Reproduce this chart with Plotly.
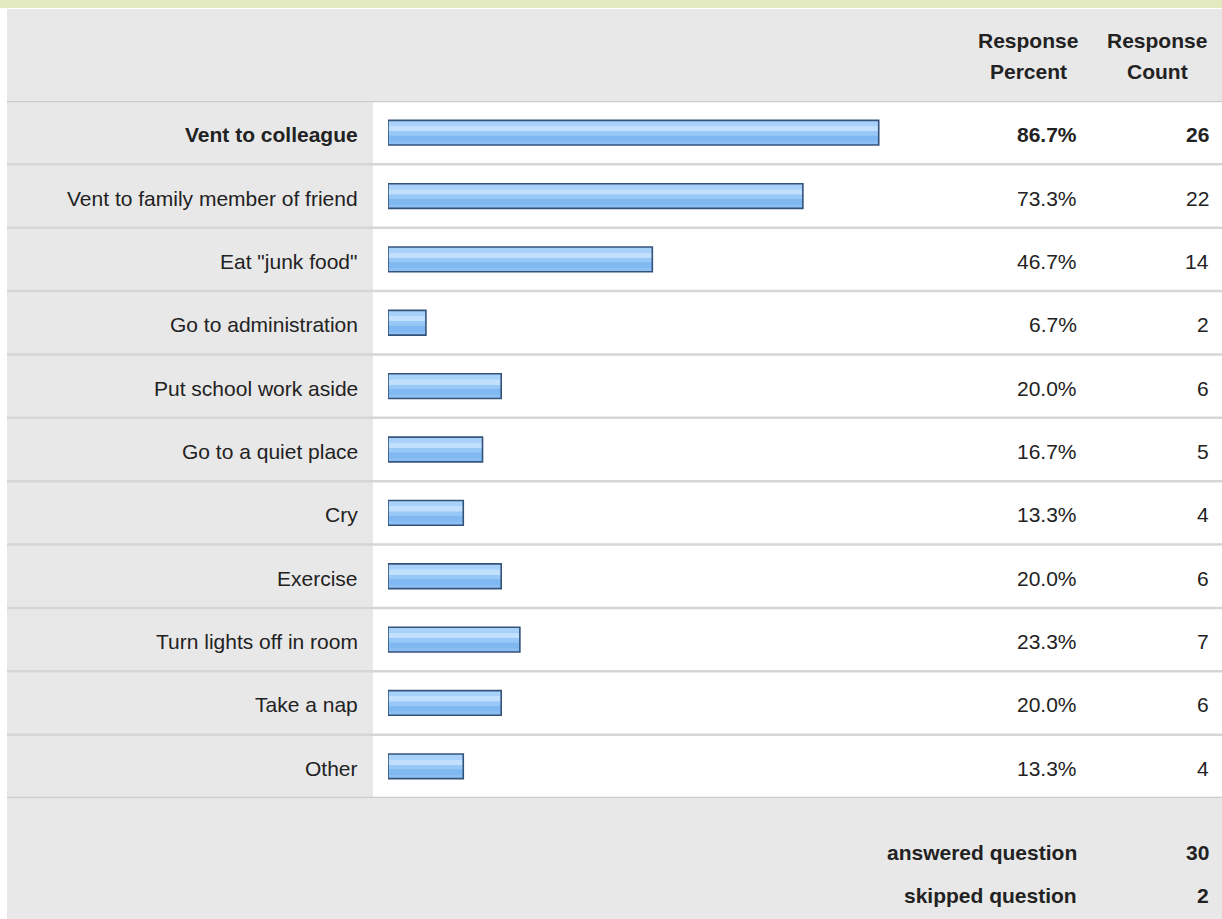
import plotly.graph_objects as go

categories = ["Vent to colleague", "Vent to family member of friend", "Eat \"junk food\"",
              "Go to administration", "Put school work aside", "Go to a quiet place", "Cry",
              "Exercise", "Turn lights off in room", "Take a nap", "Other"]
percents = [86.7, 73.3, 46.7, 6.7, 20.0, 16.7, 13.3, 20.0, 23.3, 20.0, 13.3]
counts = [26, 22, 14, 2, 6, 5, 4, 6, 7, 6, 4]
header_percent = ["Response", "Percent"]
header_count = ["Response", "Count"]
footer_labels = ["answered question", "skipped question"]
footer_values = [30, 2]

W, H = 1222, 919
FONT = "Liberation Sans, Arial, sans-serif"
FS = 21
GRAY = "#e8e8e8"
LINE = "#d6d6d6"
TXT = "#222222"

def px(x):
    return x / W

def py(y):
    return 1 - y / H

fig = go.Figure()

bw = 0.39
# gradient bands, from top (screen) to bottom: (start fraction, end fraction, color)
bands = [(0.00, 1.00, "#80b8f1"),
         (0.00, 0.22, "#a9d2fb"),
         (0.22, 0.45, "#c0e0fd"),
         (0.45, 0.62, "#98c8f7"),
         (0.85, 1.00, "#8cbff3")]
for f0, f1, colr in bands:
    fig.add_trace(go.Bar(y=categories, x=percents, orientation="h", width=bw * (f1 - f0),
                         offset=-bw / 2 + bw * f0,
                         marker=dict(color=colr, line=dict(width=0)), hoverinfo="skip"))
# outline
fig.add_trace(go.Bar(y=categories, x=percents, orientation="h", width=bw, offset=-bw / 2,
                     marker=dict(color="rgba(0,0,0,0)", line=dict(width=1.6, color="#34537b")),
                     hoverinfo="skip"))

shapes = []
shapes.append(dict(type="rect", xref="paper", yref="paper", x0=0, x1=1, y0=py(8), y1=1,
                   fillcolor="#e4eac0", line=dict(width=0), layer="below"))
shapes.append(dict(type="rect", xref="paper", yref="paper", x0=px(7), x1=1, y0=py(101), y1=py(9),
                   fillcolor=GRAY, line=dict(width=0), layer="below"))
shapes.append(dict(type="rect", xref="paper", yref="paper", x0=px(7), x1=px(373), y0=py(798), y1=py(101),
                   fillcolor=GRAY, line=dict(width=0), layer="below"))
shapes.append(dict(type="rect", xref="paper", yref="paper", x0=px(7), x1=1, y0=0, y1=py(798),
                   fillcolor=GRAY, line=dict(width=0), layer="below"))
n = len(categories)
for i in range(n + 1):
    col = "#cccccc" if i in (0, n) else LINE
    shapes.append(dict(type="line", xref="paper", yref="y", x0=px(7), x1=1, y0=i - 0.5, y1=i - 0.5,
                       line=dict(color=col, width=2.5), layer="below"))

annotations = []
for i, (c, p, k) in enumerate(zip(categories, percents, counts)):
    bold = (i == 0)
    lab = f"<b>{c}</b>" if bold else c
    ptxt = f"<b>{p:.1f}%</b>" if bold else f"{p:.1f}%"
    ktxt = f"<b>{k}</b>" if bold else f"{k}"
    for xx, t in ((360, lab), (1079, ptxt), (1211, ktxt)):
        annotations.append(dict(xref="paper", yref="y", x=px(xx), y=c, text=t, showarrow=False,
                                xanchor="right", yanchor="middle", yshift=-2,
                                font=dict(size=FS, color=TXT, family=FONT)))

for hdr, xc in ((header_percent, 1028), (header_count, 1157)):
    for t1, yy in zip(hdr, [41, 72]):
        annotations.append(dict(xref="paper", yref="paper", x=px(xc), y=py(yy), text=f"<b>{t1}</b>",
                                showarrow=False, xanchor="center", yanchor="middle",
                                font=dict(size=FS, color=TXT, family=FONT)))

for lab, val, yy in zip(footer_labels, footer_values, [852, 895]):
    annotations.append(dict(xref="paper", yref="paper", x=px(1079), y=py(yy), text=f"<b>{lab}</b>",
                            showarrow=False, xanchor="right", yanchor="middle",
                            font=dict(size=FS, color=TXT, family=FONT)))
    annotations.append(dict(xref="paper", yref="paper", x=px(1211), y=py(yy), text=f"<b>{val}</b>",
                            showarrow=False, xanchor="right", yanchor="middle",
                            font=dict(size=FS, color=TXT, family=FONT)))

fig.update_layout(
    width=W, height=H, margin=dict(l=0, r=0, t=0, b=0),
    paper_bgcolor="white", plot_bgcolor="rgba(0,0,0,0)",
    barmode="overlay", showlegend=False,
    xaxis=dict(domain=[px(388), px(954)], range=[0, 100], visible=False, fixedrange=True),
    yaxis=dict(domain=[py(798), py(101)], range=[n - 0.5, -0.5], visible=False,
               categoryorder="array", categoryarray=categories, fixedrange=True),
    shapes=shapes, annotations=annotations,
)

fig.write_html("out.html", config={"displayModeBar": False})
